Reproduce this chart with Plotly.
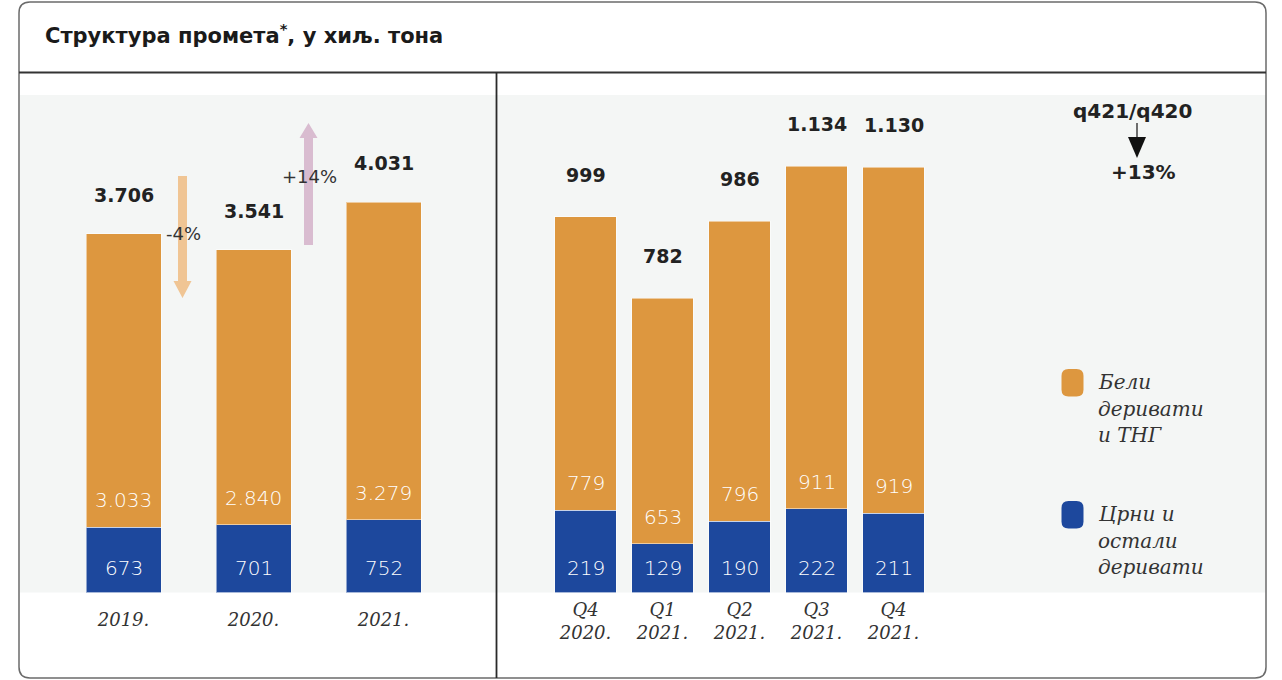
import plotly.graph_objects as go

# ---------------- data ----------------
years = ["2019.", "2020.", "2021."]
years_black = [673, 701, 752]
years_white = [3033, 2840, 3279]
years_total = [3706, 3541, 4031]

quarters = ["Q4<br>2020.", "Q1<br>2021.", "Q2<br>2021.", "Q3<br>2021.", "Q4<br>2021."]
q_black = [219, 129, 190, 222, 211]
q_white = [779, 653, 796, 911, 919]
q_total = [999, 782, 986, 1134, 1130]

series_names = ["Бели деривати и ТНГ", "Црни и остали деривати"]
legend_lines = [["Бели", "деривати", "и ТНГ"], ["Црни и", "остали", "деривати"]]
change_labels = ["-4%", "+14%"]
q_change_title = "q421/q420"
q_change_value = "+13%"
title_text = "Структура промета<sup>*</sup>, у хиљ. тона"

ORANGE = "#DD973F"
BLUE = "#1D489D"
BG = "#F4F6F5"
TXT = "#222222"

W, H = 1282, 680


def X(px):
    return px / W


def Y(py):
    return 1 - py / H


def fmt(v):
    return f"{v:,}".replace(",", ".")


NUM_FONT = "DejaVu Sans"
SERIF = "DejaVu Serif"

fig = go.Figure()

bar_line = dict(color="rgba(255,255,255,0.5)", width=1)
# left panel bars
fig.add_trace(go.Bar(x=years, y=years_black, name=series_names[1], marker_color=BLUE, marker_line=bar_line,
                     width=0.577, xaxis="x", yaxis="y", showlegend=False, hoverinfo="skip"))
fig.add_trace(go.Bar(x=years, y=years_white, name=series_names[0], marker_color=ORANGE, marker_line=bar_line,
                     width=0.577, xaxis="x", yaxis="y", showlegend=False, hoverinfo="skip"))
# right panel bars
fig.add_trace(go.Bar(x=quarters, y=q_black, name=series_names[1], marker_color=BLUE, marker_line=bar_line,
                     width=0.805, xaxis="x2", yaxis="y2", showlegend=False, hoverinfo="skip"))
fig.add_trace(go.Bar(x=quarters, y=q_white, name=series_names[0], marker_color=ORANGE, marker_line=bar_line,
                     width=0.805, xaxis="x2", yaxis="y2", showlegend=False, hoverinfo="skip"))

ann = []
shapes = []

inner_font = dict(family=NUM_FONT, size=20, color="white", weight=200)
total_font = dict(family=NUM_FONT, size=19, color=TXT, weight=700)

# value labels (positioned through the category axes by index)
for xs, blk, wht, tot, xr, yr, tshift in [
    (years, years_black, years_white, years_total, "x", "y", 39),
    (quarters, q_black, q_white, q_total, "x2", "y2", 42),
]:
    for i, (b, w, t) in enumerate(zip(blk, wht, tot)):
        ann.append(dict(x=i, y=b, xref=xr, yref=yr, text=fmt(w), showarrow=False,
                        xanchor="center", yanchor="middle", yshift=27, font=inner_font))
        ann.append(dict(x=i, y=0, xref=xr, yref=yr, text=fmt(b), showarrow=False,
                        xanchor="center", yanchor="middle", yshift=25, font=inner_font))
        ann.append(dict(x=i, y=b + w, xref=xr, yref=yr, text=fmt(t), showarrow=False,
                        xanchor="center", yanchor="middle", yshift=tshift, font=total_font))

# title
ann.append(dict(x=X(43), y=Y(34), xref="paper", yref="paper", xanchor="left", yanchor="middle",
                text=title_text, showarrow=False,
                font=dict(family=NUM_FONT, size=21, color="#1a1a1a", weight=700)))

# frame & background
shapes.append(dict(type="rect", xref="paper", yref="paper", x0=X(20), x1=X(1266), y0=Y(592.5), y1=Y(95),
                   fillcolor=BG, line_width=0, layer="below"))


def rrect(x0, y0, x1, y1, r):
    return (f"M {X(x0 + r)},{Y(y0)} L {X(x1 - r)},{Y(y0)} Q {X(x1)},{Y(y0)} {X(x1)},{Y(y0 + r)} "
            f"L {X(x1)},{Y(y1 - r)} Q {X(x1)},{Y(y1)} {X(x1 - r)},{Y(y1)} "
            f"L {X(x0 + r)},{Y(y1)} Q {X(x0)},{Y(y1)} {X(x0)},{Y(y1 - r)} "
            f"L {X(x0)},{Y(y0 + r)} Q {X(x0)},{Y(y0)} {X(x0 + r)},{Y(y0)} Z")


shapes.append(dict(type="path", xref="paper", yref="paper", path=rrect(19, 2, 1266, 678, 11),
                   line=dict(color="#6b6b6b", width=1.5), layer="above"))
shapes.append(dict(type="line", xref="paper", yref="paper", x0=X(19), x1=X(1266), y0=Y(72.5), y1=Y(72.5),
                   line=dict(color="#333333", width=1.8)))
shapes.append(dict(type="line", xref="paper", yref="paper", x0=X(496.5), x1=X(496.5), y0=Y(72.5), y1=Y(678),
                   line=dict(color="#2a2a2a", width=1.8)))


def varrow(xc, y_tail, y_tip, shaft_w, head_w, head_h, color):
    d = 1 if y_tip > y_tail else -1
    yb = y_tip - d * head_h
    p = (f"M {X(xc - shaft_w / 2)},{Y(y_tail)} L {X(xc + shaft_w / 2)},{Y(y_tail)} "
         f"L {X(xc + shaft_w / 2)},{Y(yb)} L {X(xc + head_w / 2)},{Y(yb)} L {X(xc)},{Y(y_tip)} "
         f"L {X(xc - head_w / 2)},{Y(yb)} L {X(xc - shaft_w / 2)},{Y(yb)} Z")
    return dict(type="path", xref="paper", yref="paper", path=p, fillcolor=color, line_width=0, layer="below")


shapes.append(varrow(182.5, 176, 298, 9, 18, 17, "#F0C594"))
shapes.append(varrow(308.5, 245, 123, 9, 18, 15, "#D9BCD0"))

chg_font = dict(family=NUM_FONT, size=18, color="#333333", weight=400)
ann.append(dict(x=X(183), y=Y(233), xref="paper", yref="paper", text=change_labels[0], showarrow=False,
                xanchor="center", yanchor="middle", font=chg_font))
ann.append(dict(x=X(309), y=Y(177), xref="paper", yref="paper", text=change_labels[1], showarrow=False,
                xanchor="center", yanchor="middle", font=chg_font))

# q421/q420 indicator
ann.append(dict(x=X(1132), y=Y(111), xref="paper", yref="paper", text=q_change_title,
                xanchor="center", yanchor="middle", showarrow=False,
                font=dict(family="DejaVu Sans", size=20, color="#222222", weight=700)))
ann.append(dict(x=X(1143), y=Y(172), xref="paper", yref="paper", text=q_change_value,
                xanchor="center", yanchor="middle", showarrow=False,
                font=dict(family="DejaVu Sans", size=20, color="#222222", weight=700)))
shapes.append(dict(type="line", xref="paper", yref="paper", x0=X(1137), x1=X(1137), y0=Y(123), y1=Y(138),
                   line=dict(color="#111111", width=1.2)))
shapes.append(dict(type="path", xref="paper", yref="paper",
                   path=f"M {X(1128)},{Y(137)} L {X(1146)},{Y(137)} L {X(1137)},{Y(158)} Z",
                   fillcolor="#111111", line_width=0))

# custom legend
for (top, color, lines) in [(369, ORANGE, legend_lines[0]), (501, BLUE, legend_lines[1])]:
    shapes.append(dict(type="path", xref="paper", yref="paper", path=rrect(1061.5, top, 1083.5, top + 27.5, 7),
                       fillcolor=color, line_width=0))
    for i, ln in enumerate(lines):
        ann.append(dict(x=X(1096), y=Y(top + 13 + i * 26.5), xref="paper", yref="paper", xanchor="left",
                        yanchor="middle", text=ln, showarrow=False,
                        font=dict(family=SERIF, size=20, color="#333333", style="italic", weight=300)))

y_bottom = Y(592.5)
y_top = Y(95)
tickfont = dict(family=SERIF, size=18, color="#333333", style="italic")

fig.update_layout(
    width=W, height=H,
    margin=dict(l=0, r=0, t=0, b=0),
    paper_bgcolor="white", plot_bgcolor="rgba(0,0,0,0)",
    barmode="stack",
    xaxis=dict(type="category", domain=[X(58.5), X(448.5)], range=[-0.5, 2.5], showgrid=False,
               zeroline=False, showline=False, ticks="", tickfont=tickfont, ticklabelstandoff=14,
               fixedrange=True),
    yaxis=dict(domain=[y_bottom, y_top], range=[0, 5140], visible=False, fixedrange=True),
    xaxis2=dict(type="category", domain=[X(547), X(932)], range=[-0.5, 4.5], showgrid=False,
                zeroline=False, showline=False, ticks="", tickfont=tickfont, ticklabelstandoff=4,
                anchor="y2", fixedrange=True),
    yaxis2=dict(domain=[y_bottom, y_top], range=[0, 1322], visible=False, anchor="x2", fixedrange=True),
    annotations=ann,
    shapes=shapes,
    showlegend=False,
)

fig.write_html("out.html", config={"displayModeBar": False, "staticPlot": True},
               post_script="document.body.style.margin='0';document.body.style.overflow='hidden';")
